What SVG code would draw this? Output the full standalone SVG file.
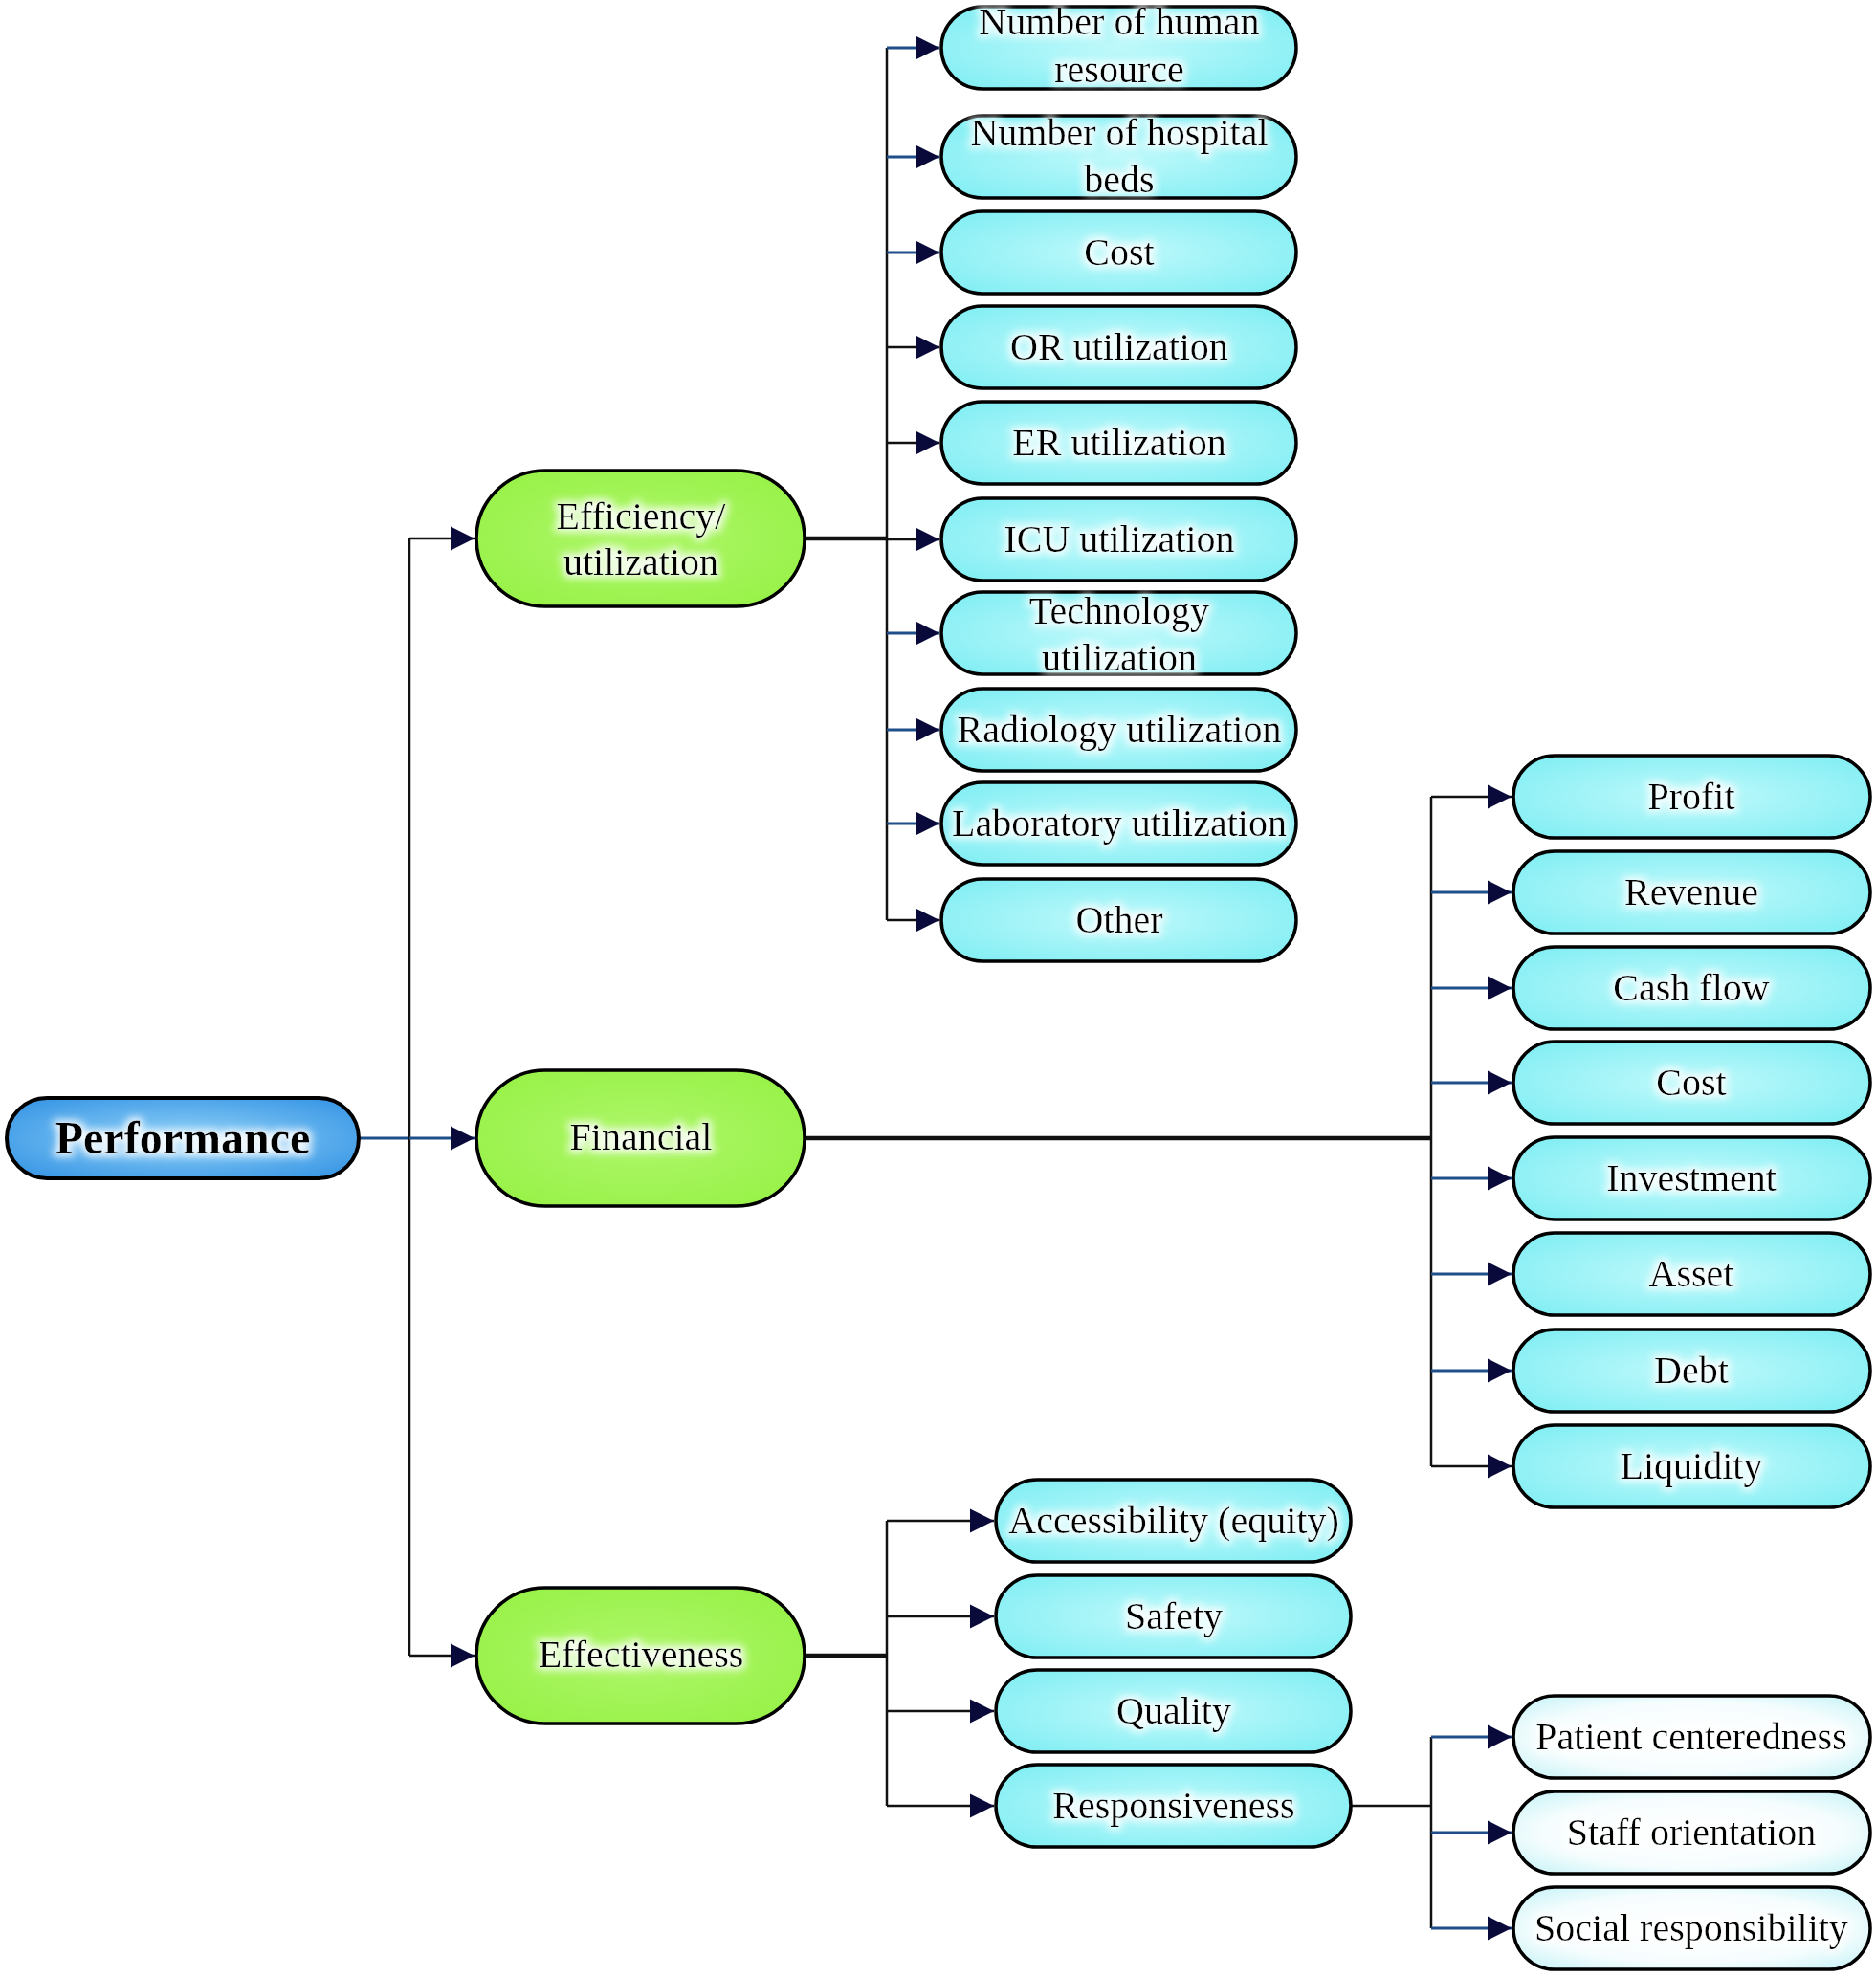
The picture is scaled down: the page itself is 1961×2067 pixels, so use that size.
<svg xmlns="http://www.w3.org/2000/svg" width="1961" height="2067" viewBox="0 0 1961 2067">
<style>
  .t{font-family:"Liberation Serif","Times New Roman",serif;font-size:40px;fill:#000;text-anchor:middle;filter:url(#halo)}
  .tb{font-weight:bold;font-size:48px}
  .cy{fill:url(#gCyan);stroke:#000;stroke-width:3.5}
  .wh{fill:url(#gWhite);stroke:#000;stroke-width:3.5}
  .gr{fill:url(#gGreen);stroke:#000;stroke-width:3.5}
  .bl{fill:url(#gBlue);stroke:#000;stroke-width:4}
  .ln{fill:none;stroke:#111;stroke-width:2.5}
  .thick{stroke-width:4.5}
  .stub{fill:none;stroke:#1f4f8a;stroke-width:3;marker-end:url(#arr)}
  .stubk{fill:none;stroke:#111;stroke-width:2.5;marker-end:url(#arr)}
</style>
<defs>
  <radialGradient id="gCyan" cx="50%" cy="50%" r="60%">
    <stop offset="0%" stop-color="#bff9fb"/>
    <stop offset="100%" stop-color="#86eff4"/>
  </radialGradient>
  <radialGradient id="gWhite" cx="50%" cy="50%" r="60%">
    <stop offset="0%" stop-color="#ffffff"/>
    <stop offset="70%" stop-color="#f6fdfe"/>
    <stop offset="100%" stop-color="#d4f6f9"/>
  </radialGradient>
  <radialGradient id="gGreen" cx="50%" cy="50%" r="60%">
    <stop offset="0%" stop-color="#aef66a"/>
    <stop offset="100%" stop-color="#98f248"/>
  </radialGradient>
  <radialGradient id="gBlue" cx="50%" cy="50%" r="60%">
    <stop offset="0%" stop-color="#90d2f8"/>
    <stop offset="100%" stop-color="#3e9ae6"/>
  </radialGradient>
  <filter id="halo" x="-10%" y="-40%" width="120%" height="180%">
    <feMorphology in="SourceAlpha" operator="dilate" radius="3" result="d"/>
    <feGaussianBlur in="d" stdDeviation="4" result="b"/>
    <feFlood flood-color="#ffffff" flood-opacity="0.9"/>
    <feComposite in2="b" operator="in" result="g"/>
    <feMerge><feMergeNode in="g"/><feMergeNode in="SourceGraphic"/></feMerge>
  </filter>
  <marker id="arr" viewBox="0 0 10 10" refX="10" refY="5" markerUnits="userSpaceOnUse" markerWidth="25" markerHeight="26" orient="auto">
    <path d="M0,0 L10,5 L0,10 z" fill="#0a0a3a"/>
  </marker>
</defs>

<g id="connectors">
  <path class="stub" d="M375,1190 H428" style="marker-end:none"/>
  <path class="ln" d="M428,563 V1731"/>
  <path class="stubk" d="M428,563 H496"/>
  <path class="stub" d="M428,1190 H496"/>
  <path class="stubk" d="M428,1731 H496"/>
  <path class="ln thick" d="M841,563 H927"/>
  <path class="ln" d="M927,50 V962"/>
  <path class="stub" d="M927,50 H982"/>
  <path class="stub" d="M927,164 H982"/>
  <path class="stub" d="M927,264 H982"/>
  <path class="stubk" d="M927,363 H982"/>
  <path class="stubk" d="M927,463 H982"/>
  <path class="stubk" d="M927,564 H982"/>
  <path class="stub" d="M927,662 H982"/>
  <path class="stub" d="M927,763 H982"/>
  <path class="stub" d="M927,861 H982"/>
  <path class="stubk" d="M927,962 H982"/>
  <path class="ln thick" d="M841,1190 H1496"/>
  <path class="ln" d="M1496,833 V1533"/>
  <path class="stubk" d="M1496,833 H1580"/>
  <path class="stub" d="M1496,933 H1580"/>
  <path class="stub" d="M1496,1033 H1580"/>
  <path class="stub" d="M1496,1132 H1580"/>
  <path class="stub" d="M1496,1232 H1580"/>
  <path class="stub" d="M1496,1332 H1580"/>
  <path class="stub" d="M1496,1433 H1580"/>
  <path class="stubk" d="M1496,1533 H1580"/>
  <path class="ln thick" d="M841,1731 H927"/>
  <path class="ln" d="M927,1590 V1888"/>
  <path class="stubk" d="M927,1590 H1039"/>
  <path class="stubk" d="M927,1690 H1039"/>
  <path class="stubk" d="M927,1789 H1039"/>
  <path class="stubk" d="M927,1888 H1039"/>
  <path class="ln" d="M1412,1888 H1496"/>
  <path class="ln" d="M1496,1816 V2016"/>
  <path class="stub" d="M1496,1816 H1580"/>
  <path class="stub" d="M1496,1916 H1580"/>
  <path class="stub" d="M1496,2016 H1580"/>
</g>

<g id="performance">
  <rect class="bl" x="7" y="1148" width="368" height="84" rx="42"/>
  <text class="t tb" x="191" y="1206">Performance</text>
</g>

<g id="efficiency">
  <rect class="gr" x="498" y="492" width="343" height="142" rx="72" ry="71"/>
  <text class="t" x="670" y="553">Efficiency/</text>
  <text class="t" x="670" y="601">utilization</text>
</g>
<g id="financial">
  <rect class="gr" x="498" y="1119" width="343" height="142" rx="72" ry="71"/>
  <text class="t" x="670" y="1202">Financial</text>
</g>
<g id="effectiveness">
  <rect class="gr" x="498" y="1660" width="343" height="142" rx="72" ry="71"/>
  <text class="t" x="670" y="1743">Effectiveness</text>
</g>

<g id="human-resource">
  <rect class="cy" x="984" y="7" width="371" height="86" rx="43"/>
  <text class="t" x="1170" y="36">Number of human</text>
  <text class="t" x="1170" y="86">resource</text>
</g>
<g id="hospital-beds">
  <rect class="cy" x="984" y="121" width="371" height="86" rx="43"/>
  <text class="t" x="1170" y="152">Number of hospital</text>
  <text class="t" x="1170" y="201">beds</text>
</g>
<g id="cost-eff">
  <rect class="cy" x="984" y="221" width="371" height="86" rx="43"/>
  <text class="t" x="1170" y="277">Cost</text>
</g>
<g id="or-util">
  <rect class="cy" x="984" y="320" width="371" height="86" rx="43"/>
  <text class="t" x="1170" y="376">OR utilization</text>
</g>
<g id="er-util">
  <rect class="cy" x="984" y="420" width="371" height="86" rx="43"/>
  <text class="t" x="1170" y="476">ER utilization</text>
</g>
<g id="icu-util">
  <rect class="cy" x="984" y="521" width="371" height="86" rx="43"/>
  <text class="t" x="1170" y="577">ICU utilization</text>
</g>
<g id="tech-util">
  <rect class="cy" x="984" y="619" width="371" height="86" rx="43"/>
  <text class="t" x="1170" y="652">Technology</text>
  <text class="t" x="1170" y="701">utilization</text>
</g>
<g id="radiology-util">
  <rect class="cy" x="984" y="720" width="371" height="86" rx="43"/>
  <text class="t" x="1170" y="776">Radiology utilization</text>
</g>
<g id="lab-util">
  <rect class="cy" x="984" y="818" width="371" height="86" rx="43"/>
  <text class="t" x="1170" y="874">Laboratory utilization</text>
</g>
<g id="other">
  <rect class="cy" x="984" y="919" width="371" height="86" rx="43"/>
  <text class="t" x="1170" y="975">Other</text>
</g>

<g id="profit">
  <rect class="cy" x="1582" y="790" width="373" height="86" rx="43"/>
  <text class="t" x="1768" y="846">Profit</text>
</g>
<g id="revenue">
  <rect class="cy" x="1582" y="890" width="373" height="86" rx="43"/>
  <text class="t" x="1768" y="946">Revenue</text>
</g>
<g id="cash-flow">
  <rect class="cy" x="1582" y="990" width="373" height="86" rx="43"/>
  <text class="t" x="1768" y="1046">Cash flow</text>
</g>
<g id="cost-fin">
  <rect class="cy" x="1582" y="1089" width="373" height="86" rx="43"/>
  <text class="t" x="1768" y="1145">Cost</text>
</g>
<g id="investment">
  <rect class="cy" x="1582" y="1189" width="373" height="86" rx="43"/>
  <text class="t" x="1768" y="1245">Investment</text>
</g>
<g id="asset">
  <rect class="cy" x="1582" y="1289" width="373" height="86" rx="43"/>
  <text class="t" x="1768" y="1345">Asset</text>
</g>
<g id="debt">
  <rect class="cy" x="1582" y="1390" width="373" height="86" rx="43"/>
  <text class="t" x="1768" y="1446">Debt</text>
</g>
<g id="liquidity">
  <rect class="cy" x="1582" y="1490" width="373" height="86" rx="43"/>
  <text class="t" x="1768" y="1546">Liquidity</text>
</g>

<g id="accessibility">
  <rect class="cy" x="1041" y="1547" width="371" height="86" rx="43"/>
  <text class="t" x="1227" y="1603">Accessibility (equity)</text>
</g>
<g id="safety">
  <rect class="cy" x="1041" y="1647" width="371" height="86" rx="43"/>
  <text class="t" x="1227" y="1703">Safety</text>
</g>
<g id="quality">
  <rect class="cy" x="1041" y="1746" width="371" height="86" rx="43"/>
  <text class="t" x="1227" y="1802">Quality</text>
</g>
<g id="responsiveness">
  <rect class="cy" x="1041" y="1845" width="371" height="86" rx="43"/>
  <text class="t" x="1227" y="1901">Responsiveness</text>
</g>

<g id="patient-centeredness">
  <rect class="wh" x="1582" y="1773" width="373" height="86" rx="43"/>
  <text class="t" x="1768" y="1829">Patient centeredness</text>
</g>
<g id="staff-orientation">
  <rect class="wh" x="1582" y="1873" width="373" height="86" rx="43"/>
  <text class="t" x="1768" y="1929">Staff orientation</text>
</g>
<g id="social-responsibility">
  <rect class="wh" x="1582" y="1973" width="373" height="86" rx="43"/>
  <text class="t" x="1768" y="2029">Social responsibility</text>
</g>
</svg>
